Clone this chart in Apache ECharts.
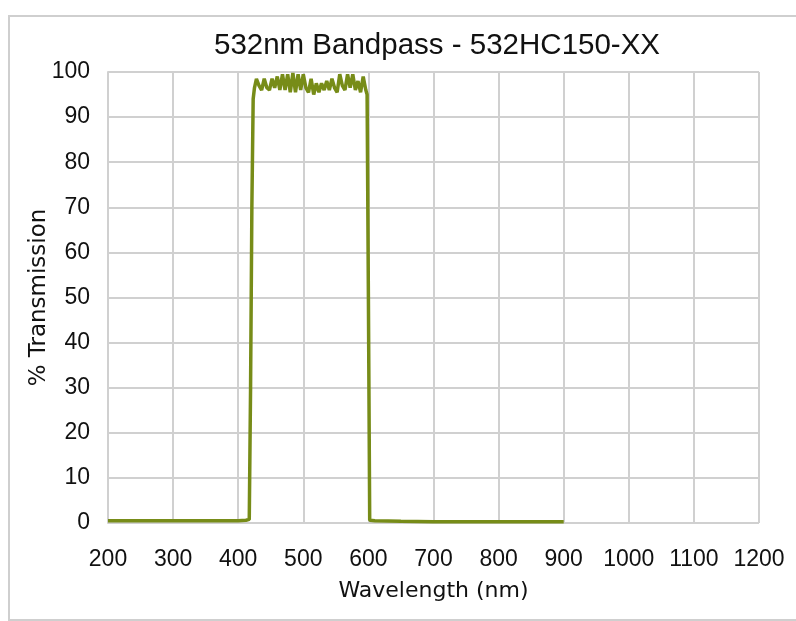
<!DOCTYPE html>
<html><head><meta charset="utf-8">
<script src="https://cdn.jsdelivr.net/npm/echarts@6/dist/echarts.min.js"></script>
<style>
html,body{margin:0;padding:0;background:#fff;overflow:hidden;width:796px;height:621px;}
#frame{position:absolute;left:8px;top:15px;width:830px;height:606px;border:2px solid #cfcfcf;box-sizing:border-box;}
#c{position:absolute;left:0;top:0;width:796px;height:621px;}
</style></head>
<body><div id="frame"></div><div id="c"></div>
<script>
const titleText = "532nm Bandpass - 532HC150-XX";
const xName = "Wavelength (nm)";
const yName = "% Transmission";
const wavelength = [200,300,400,412,417,419,421,423,425,428,432,436,440,444,448,452,456,460,464,468,472,476,480,484,488,492,496,500,504,508,512,516,520,524,528,532,536,540,544,548,552,556,560,564,568,572,576,580,584,588,592,596,598,600,602,610,650,700,800,900];
const transmission = [0.5,0.5,0.5,0.6,0.8,30,70,94,96.5,98.5,97,96,98.5,96.5,96,98.5,96.5,99,96,99.5,96,99.5,95.5,99.8,95.5,99.5,96,99.5,96.5,95.5,98.5,95,97.5,95.5,97.5,96,98,96,98.5,96.5,95.5,99.5,97,96,99.5,96.5,99.5,96,98,95.5,99,96,95,50,0.6,0.5,0.4,0.3,0.3,0.3];
const chart = echarts.init(document.getElementById('c'));
const font = "'Liberation Sans',Arial,sans-serif";
const wide = "'DejaVu Sans',sans-serif";
chart.setOption({
  animation:false,
  title:{text:titleText,left:432,top:26,textAlign:'center',textStyle:{fontFamily:font,fontSize:29.5,fontWeight:'normal',color:'#111'}},
  grid:{left:108,right:37,top:72,bottom:98},
  xAxis:{type:'value',min:200,max:1200,interval:100,name:xName,nameLocation:'middle',nameGap:57,nameMoveOverlap:false,
    nameTextStyle:{fontFamily:wide,fontSize:22,color:'#111'},
    axisLine:{show:false},axisTick:{show:false},
    axisLabel:{fontFamily:font,fontSize:23,color:'#111',margin:25,formatter:v=>String(v)},
    splitLine:{show:true,lineStyle:{color:'#d0d0d0',width:2}}},
  yAxis:{type:'value',min:0,max:100,interval:10,name:yName,nameLocation:'middle',nameGap:57,nameMoveOverlap:false,
    nameTextStyle:{fontFamily:wide,fontSize:23,color:'#111'},
    axisLine:{show:true,lineStyle:{color:'#d0d0d0',width:2}},axisTick:{show:false},
    axisLabel:{fontFamily:font,fontSize:23,color:'#111',margin:18,formatter:v=>String(v)},
    splitLine:{show:true,lineStyle:{color:'#d0d0d0',width:2}}},
  series:[{type:'line',data:wavelength.map((w,i)=>[w,transmission[i]]),showSymbol:false,
    lineStyle:{color:'#778c18',width:3.5},itemStyle:{color:'#778c18'}}]
});
</script></body></html>
